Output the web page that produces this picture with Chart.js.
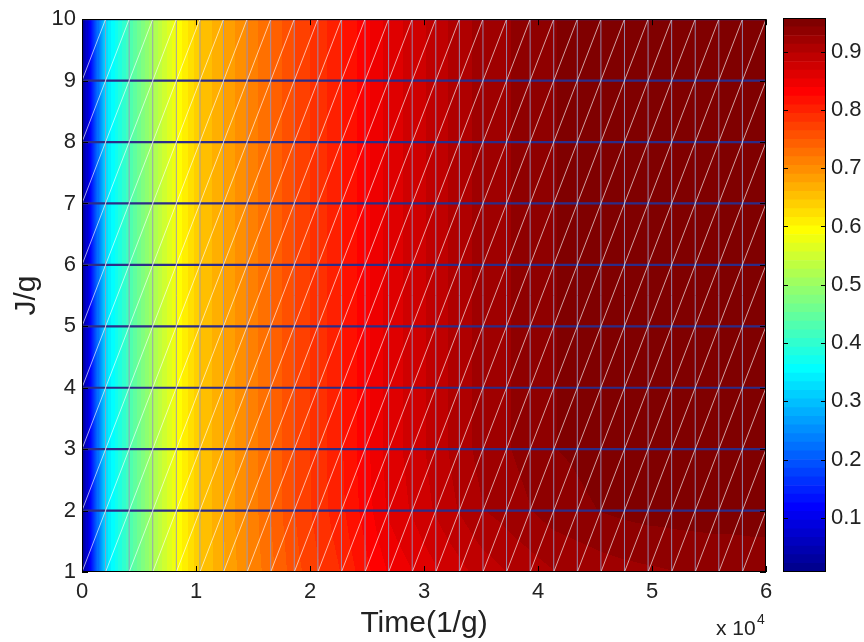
<!DOCTYPE html>
<html>
<head>
<meta charset="utf-8">
<script src="https://cdn.jsdelivr.net/npm/chart.js@4.4.1/dist/chart.umd.min.js"></script>
<style>
  html,body{margin:0;padding:0;background:#fff;overflow:hidden}
  #wrap{position:relative;width:864px;height:642px}
  #main{position:absolute;left:0;top:0}
  #cbar{position:absolute;left:770px;top:0}
</style>
</head>
<body>
<div id="wrap">
  <canvas id="main" width="864" height="642"></canvas>
  <canvas id="cbar" width="94" height="642"></canvas>
</div>
<script>
// ── Grid + data ──
const timeValues=[0,2069,4138,6207,8276,10345,12414,14483,16552,18621,20690,22759,24828,26897,28966,31034,33103,35172,37241,39310,41379,43448,45517,47586,49655,51724,53793,55862,57931,60000];
const jValues=[1,2,3,4,5,6,7,8,9,10];
// value along time, rows J=3..10 look identical
const zUpper=[0.007,0.325,0.423,0.51,0.587,0.645,0.675,0.706,0.735,0.765,0.786,0.807,0.833,0.86,0.874,0.89,0.905,0.919,0.926,0.934,0.942,0.945,0.949,0.952,0.953,0.954,0.955,0.956,0.956,0.957];
const zJ2=[0.007,0.325,0.423,0.51,0.587,0.645,0.675,0.706,0.735,0.764,0.785,0.805,0.83,0.856,0.87,0.885,0.899,0.912,0.919,0.927,0.935,0.939,0.943,0.946,0.948,0.949,0.95,0.951,0.951,0.952];
const zJ1=[0.007,0.325,0.423,0.51,0.587,0.644,0.673,0.703,0.73,0.758,0.777,0.795,0.818,0.84,0.853,0.866,0.878,0.89,0.898,0.905,0.912,0.916,0.92,0.923,0.925,0.927,0.928,0.929,0.93,0.93];
const cLim=[0.0073,0.9573];
const xTickValues=[0,10000,20000,30000,40000,50000,60000];
const yTickValues=[1,2,3,4,5,6,7,8,9,10];
const colorbarTicks=[0.1,0.2,0.3,0.4,0.5,0.6,0.7,0.8,0.9];

const TXT='#222';
const FONT='"Liberation Sans", Arial, Helvetica, sans-serif';

// ── MATLAB jet(64) ──
function jet(k){
  const i=k+1;
  const u=n=>n<1||n>47?0:(n<=16?n/16:(n<=31?1:(48-n)/16));
  const r=i>=25?u(i-24):0, g=(i>=9&&i<=55)?u(i-8):0, b=i<=39?u(i+8):0;
  return [Math.round(r*255),Math.round(g*255),Math.round(b*255)];
}
function cIndex(v){
  let k=Math.floor((v-cLim[0])/(cLim[1]-cLim[0])*64);
  return Math.max(0,Math.min(63,k));
}
const rowFor=j=>j===0?zJ1:(j===1?zJ2:zUpper);

function findCell(arr,v){
  for(let i=0;i<arr.length-2;i++)if(v<arr[i+1])return i;
  return arr.length-2;
}
// triangle interpolation, diagonal from (t_i,J_j) to (t_i+1,J_j+1)
function zAt(t,J){
  const i=findCell(timeValues,t), j=findCell(jValues,J);
  const s=Math.max(0,Math.min(1,(t-timeValues[i])/(timeValues[i+1]-timeValues[i])));
  const q=Math.max(0,Math.min(1,(J-jValues[j])/(jValues[j+1]-jValues[j])));
  const lo=rowFor(j), hi=rowFor(j+1);
  const z00=lo[i],z10=lo[i+1],z01=hi[i],z11=hi[i+1];
  if(q>=s)return z00+q*(z01-z00)+s*(z11-z01);
  return z00+s*(z10-z00)+q*(z11-z10);
}

// ── Heatmap plugin: fills chart area through the scales ──
const heatmap={
  id:'heatmap',
  beforeDatasetsDraw(chart){
    const {ctx,chartArea:a,scales:{x,y}}=chart;
    const l=Math.round(a.left),tp=Math.round(a.top);
    const w=Math.round(a.right)-l,h=Math.round(a.bottom)-tp;
    const img=ctx.createImageData(w,h);
    const ts=[];for(let px=0;px<w;px++)ts.push(x.getValueForPixel(l+px+0.5));
    for(let py=0;py<h;py++){
      const J=y.getValueForPixel(tp+py+0.5);
      for(let px=0;px<w;px++){
        const c=jet(cIndex(zAt(ts[px],J)));
        const o=(py*w+px)*4;
        img.data[o]=c[0];img.data[o+1]=c[1];img.data[o+2]=c[2];img.data[o+3]=255;
      }
    }
    ctx.putImageData(img,l,tp);
  }
};

// ── Frame, ticks and labels ──
const frame={
  id:'frame',
  afterDraw(chart){
    const {ctx,chartArea:a,scales:{x,y}}=chart;
    ctx.save();
    ctx.strokeStyle='#000';ctx.lineWidth=1;
    ctx.beginPath();
    xTickValues.forEach(v=>{const p=Math.round(x.getPixelForValue(v))+0.5;ctx.moveTo(p,a.bottom);ctx.lineTo(p,a.bottom-6);ctx.moveTo(p,a.top);ctx.lineTo(p,a.top+6)});
    yTickValues.forEach(v=>{const p=Math.round(y.getPixelForValue(v))+0.5;ctx.moveTo(a.left,p);ctx.lineTo(a.left+6,p);ctx.moveTo(a.right,p);ctx.lineTo(a.right-6,p)});
    ctx.stroke();
    ctx.strokeRect(Math.round(a.left)+0.5,Math.round(a.top)+0.5,Math.round(a.right-a.left)-1,Math.round(a.bottom-a.top)-1);
    ctx.fillStyle=TXT;
    ctx.font='30px '+FONT;ctx.textAlign='center';ctx.textBaseline='alphabetic';
    ctx.fillText('Time(1/g)',(a.left+a.right)/2,632);
    ctx.save();ctx.translate(35,(a.top+a.bottom)/2);ctx.rotate(-Math.PI/2);
    ctx.fillText('J/g',0,0);ctx.restore();
    ctx.textAlign='left';
    ctx.font='21px '+FONT;ctx.fillText('x 10',716,635);
    ctx.font='14px '+FONT;ctx.fillText('4',757,624);
    ctx.restore();
  }
};

// ── Mesh lines as datasets ──
const diagPts=[],vertPts=[],horzPts=[];
for(let j=0;j<jValues.length-1;j++){
  for(let i=0;i<timeValues.length-1;i++){
    diagPts.push({x:timeValues[i],y:jValues[j]},{x:timeValues[i+1],y:jValues[j+1]},{x:NaN,y:NaN});
  }
}
timeValues.forEach(t=>vertPts.push({x:t,y:jValues[0]},{x:t,y:jValues[jValues.length-1]},{x:NaN,y:NaN}));
jValues.forEach(J=>horzPts.push({x:timeValues[0],y:J},{x:timeValues[timeValues.length-1],y:J},{x:NaN,y:NaN}));

const lineDs=(data,color,width)=>({type:'scatter',data,showLine:true,spanGaps:false,borderColor:color,borderWidth:width,pointRadius:0,fill:false});

new Chart(document.getElementById('main'),{
  type:'scatter',
  data:{datasets:[
    lineDs(diagPts,'rgba(255,255,255,0.8)',0.8),
    lineDs(vertPts,'rgba(150,150,190,0.9)',1),
    lineDs(horzPts,'#2c2c88',2.2)
  ]},
  options:{
    responsive:false,animation:false,devicePixelRatio:1,
    layout:{padding:{top:16,right:98,left:0,bottom:0}},
    plugins:{legend:{display:false},tooltip:{enabled:false}},
    scales:{
      x:{type:'linear',min:0,max:60000,
        afterFit:s=>{s.height=70},
        afterBuildTicks:s=>{s.ticks=xTickValues.map(v=>({value:v}))},
        ticks:{callback:v=>String(v/10000),color:TXT,font:{size:22,family:FONT},padding:7,maxRotation:0},
        grid:{display:false,drawTicks:false},border:{display:false}},
      y:{type:'linear',min:1,max:10,
        afterFit:s=>{s.width=82},
        afterBuildTicks:s=>{s.ticks=yTickValues.map(v=>({value:v}))},
        ticks:{color:TXT,font:{size:22,family:FONT},padding:6},
        grid:{display:false,drawTicks:false},border:{display:false}}
    }
  },
  plugins:[heatmap,frame]
});

// ── Colorbar ──
const bands=[];
for(let k=0;k<64;k++){
  const lo=cLim[0]+(cLim[1]-cLim[0])*k/64, hi=cLim[0]+(cLim[1]-cLim[0])*(k+1)/64;
  const c=jet(k);
  bands.push({data:[[lo,hi]],backgroundColor:`rgb(${c[0]},${c[1]},${c[2]})`,borderWidth:0,grouped:false,barPercentage:1,categoryPercentage:1});
}
const cbFrame={
  id:'cbFrame',
  afterDraw(chart){
    const {ctx,chartArea:a,scales:{y}}=chart;
    ctx.save();ctx.strokeStyle='#000';ctx.lineWidth=1;
    ctx.beginPath();
    colorbarTicks.forEach(v=>{const p=Math.round(y.getPixelForValue(v))+0.5;ctx.moveTo(a.left,p);ctx.lineTo(a.left+5,p);ctx.moveTo(a.right,p);ctx.lineTo(a.right-5,p)});
    ctx.stroke();
    ctx.strokeRect(Math.round(a.left)+0.5,Math.round(a.top)+0.5,Math.round(a.right-a.left)-1,Math.round(a.bottom-a.top)-1);
    ctx.restore();
  }
};
new Chart(document.getElementById('cbar'),{
  type:'bar',
  data:{labels:[''],datasets:bands},
  options:{
    responsive:false,animation:false,devicePixelRatio:1,
    layout:{padding:{left:13,top:16,bottom:70,right:0}},
    plugins:{legend:{display:false},tooltip:{enabled:false}},
    scales:{
      x:{display:false},
      y:{position:'right',min:cLim[0],max:cLim[1],
        afterFit:s=>{s.width=38},
        afterBuildTicks:s=>{s.ticks=colorbarTicks.map(v=>({value:v}))},
        ticks:{callback:v=>v.toFixed(1),color:TXT,font:{size:22,family:FONT},padding:5},
        grid:{display:false,drawTicks:false},border:{display:false}}
    }
  },
  plugins:[cbFrame]
});
</script>
</body>
</html>
